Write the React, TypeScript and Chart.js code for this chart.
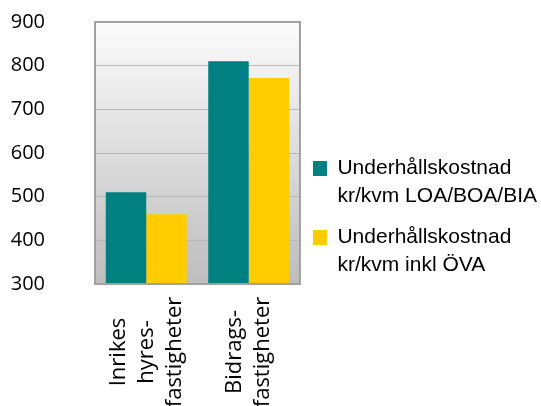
import React, { useEffect, useRef } from "react";
import { Chart, registerables } from "chart.js";

Chart.register(...registerables);

// ---- data ----
const categories: string[][] = [
  ["Inrikes", "hyres-", "fastigheter"],
  ["Bidrags-", "fastigheter"],
];
const seriesNames: string[][] = [
  ["Underhållskostnad", "kr/kvm LOA/BOA/BIA"],
  ["Underhållskostnad", "kr/kvm inkl ÖVA"],
];
const costLoaBoaBia = [510, 810];
const costInklOva = [460, 772];
const yTickValues = [300, 400, 500, 600, 700, 800, 900];

const seriesColors = ["#008080", "#ffcc00"];

const plotBackground = {
  id: "plotBackground",
  beforeDraw(chart: any) {
    const { ctx, chartArea } = chart;
    const { left, top, width, height } = chartArea;
    const g = ctx.createLinearGradient(0, top, 0, top + height);
    g.addColorStop(0, "#fcfcfc");
    g.addColorStop(1, "#bdbdbd");
    ctx.save();
    ctx.fillStyle = g;
    ctx.fillRect(left, top, width, height);
    ctx.restore();
  },
  afterDatasetsDraw(chart: any) {
    const { ctx, chartArea } = chart;
    const { left, top, width, height } = chartArea;
    ctx.save();
    ctx.strokeStyle = "#a0a0a0";
    ctx.lineWidth = 2;
    ctx.strokeRect(left, top, width, height);
    ctx.restore();
  },
};

const xCategoryLabels = {
  id: "xCategoryLabels",
  afterDraw(chart: any) {
    const xs = chart.scales.x;
    const ctx = chart.ctx;
    const lineGap = 28;
    const centerY = chart.chartArea.bottom + 68;
    ctx.save();
    ctx.font = "22px 'Open Sans'";
    ctx.fillStyle = "#000";
    ctx.textAlign = "center";
    ctx.textBaseline = "middle";
    categories.forEach((lines, i) => {
      const cx = xs.getPixelForTick(i);
      lines.forEach((line, j) => {
        const x = cx + (j - (lines.length - 1) / 2) * lineGap;
        ctx.save();
        ctx.translate(x, centerY);
        ctx.rotate(-Math.PI / 2);
        ctx.fillText(line, 0, 0);
        ctx.restore();
      });
    });
    ctx.restore();
  },
};

export default function App() {
  const ref = useRef<HTMLCanvasElement | null>(null);

  useEffect(() => {
    if (!ref.current) return;
    const chart = new Chart(ref.current, {
      type: "bar",
      data: {
        labels: categories.map((c) => c.join(" ")),
        datasets: [
          {
            label: seriesNames[0].join(" "),
            data: costLoaBoaBia,
            backgroundColor: seriesColors[0],
            borderWidth: 0,
            categoryPercentage: 0.79,
            barPercentage: 1,
          },
          {
            label: seriesNames[1].join(" "),
            data: costInklOva,
            backgroundColor: seriesColors[1],
            borderWidth: 0,
            categoryPercentage: 0.79,
            barPercentage: 1,
          },
        ],
      },
      options: {
        animation: false,
        responsive: false,
        maintainAspectRatio: false,
        devicePixelRatio: 1,
        layout: { padding: { left: 10, top: 22, right: 0, bottom: 110 } },
        scales: {
          x: {
            type: "category",
            offset: true,
            grid: { display: false, drawTicks: false },
            border: { display: false },
            ticks: { display: false },
            afterFit: (s: any) => {
              s.height = 12;
            },
          },
          y: {
            min: yTickValues[0],
            max: yTickValues[yTickValues.length - 1],
            afterBuildTicks: (s: any) => {
              s.ticks = yTickValues.map((v) => ({ value: v }));
            },
            ticks: {
              stepSize: 100,
              padding: 0,
              color: "#000",
              font: { family: "'Open Sans'", size: 20 },
            },
            grid: {
              color: "#b8b8b8",
              drawTicks: true,
              tickLength: 50,
              tickColor: "rgba(0,0,0,0)",
            },
            border: { display: false },
            afterFit: (s: any) => {
              s.width = 85;
            },
          },
        },
        plugins: {
          tooltip: { enabled: false },
          legend: {
            position: "right",
            align: "end",
            maxWidth: 300,
            labels: {
              boxWidth: 14,
              boxHeight: 15,
              padding: 13,
              color: "#000",
              font: { family: "'Liberation Sans'", size: 21, lineHeight: 28 / 21 },
              generateLabels: (c: any) =>
                c.data.datasets.map((ds: any, i: number) => ({
                  text: seriesNames[i],
                  fillStyle: ds.backgroundColor,
                  strokeStyle: ds.backgroundColor,
                  lineWidth: 0,
                  hidden: false,
                  datasetIndex: i,
                })),
            },
          },
        },
      },
      plugins: [plotBackground, xCategoryLabels],
    } as any);
    return () => chart.destroy();
  }, []);

  return (
    <div
      style={{
        position: "absolute",
        left: 0,
        top: 0,
        width: 541,
        height: 406,
        overflow: "hidden",
        background: "#fff",
      }}
    >
      <canvas
        ref={ref}
        width={547}
        height={406}
        style={{ display: "block", width: 547, height: 406 }}
      />
    </div>
  );
}
